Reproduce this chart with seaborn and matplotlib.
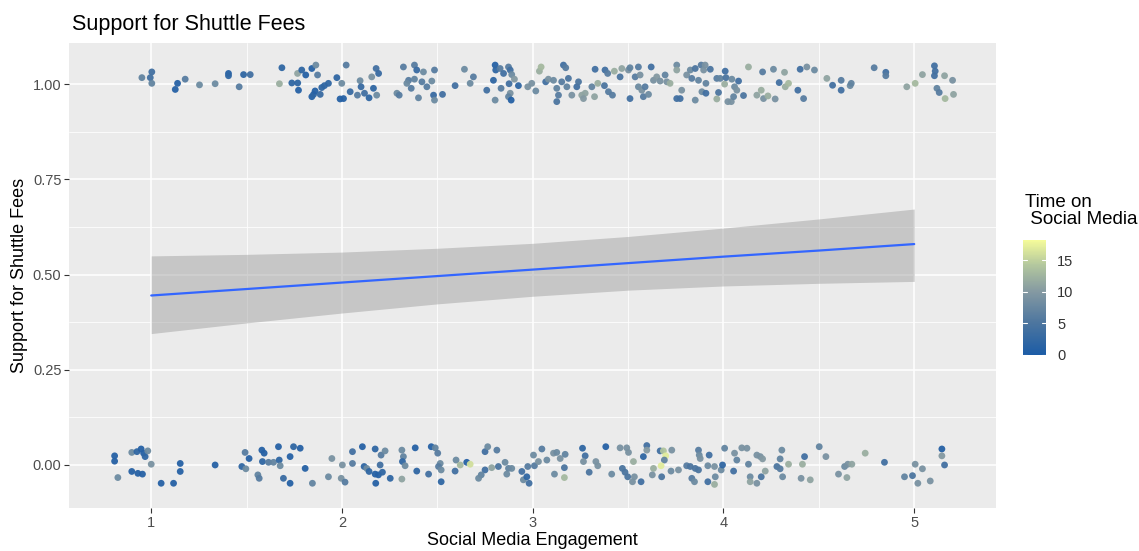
import numpy as np
import pandas as pd
import matplotlib
matplotlib.use("Agg")
import matplotlib.pyplot as plt
from matplotlib.colors import LinearSegmentedColormap, Normalize
import matplotlib.cm as cm
import seaborn as sns

# Respondents who support the fee (outcome = 1), jittered positions
support_x = [0.951, 0.995, 1.003, 1.003, 1.126, 1.138, 1.178, 1.253, 1.335, 1.405, 1.405, 1.461, 1.484, 1.519,
             1.685, 1.672, 1.737, 1.768, 1.772, 1.767, 1.789, 1.810, 1.842, 1.863, 1.872, 1.842, 1.851, 1.859,
             1.886, 1.894, 1.908, 1.929, 1.973, 1.999, 1.990, 2.008, 2.022, 2.043, 2.081, 2.095, 2.100, 2.118,
             2.142, 2.156, 2.165, 2.179, 2.182,
             2.192, 2.322, 2.380, 2.392, 2.427, 2.485, 2.349, 2.380, 2.340, 2.419, 2.445, 2.471, 2.363, 2.288,
             2.300, 2.401, 2.480, 2.485, 2.527, 2.593, 2.642, 2.672, 2.689, 2.759, 2.803, 2.806, 2.794, 2.829,
             2.847, 2.873, 2.882, 2.890, 2.904, 2.834, 2.876, 2.882, 2.873, 2.887, 2.803, 2.925, 2.974, 2.995,
             3.016, 3.035, 3.044, 3.068, 3.082, 3.109, 3.126, 3.135, 3.126, 3.152, 3.161, 3.173, 3.179, 3.187,
             3.205, 3.231, 3.240, 3.257, 3.275, 3.266, 3.310, 3.327, 3.324, 3.341, 3.379, 3.393, 3.376, 3.397,
             3.418, 3.428, 3.458, 3.467, 3.502, 3.510, 3.537, 3.510, 3.554, 3.563, 3.554, 3.572, 3.589, 3.580,
             3.607, 3.621, 3.633, 3.650, 3.668, 3.694, 3.703, 3.720, 3.755, 3.755, 3.781, 3.755, 3.773, 3.807,
             3.826, 3.834, 3.852, 3.883, 3.896, 3.904, 3.931, 3.869, 3.908, 3.887, 3.908, 3.852, 3.965, 3.983,
             3.974, 3.965, 4.006, 4.009, 4.013, 4.023, 4.041, 4.044, 4.058, 4.070, 4.053, 4.079, 4.105, 4.131,
             4.175, 4.198, 4.210, 4.205, 4.233, 4.262, 4.271, 4.292, 4.320, 4.324, 4.341, 4.390, 4.402, 4.420,
             4.437, 4.477, 4.542, 4.572, 4.617, 4.617, 4.664, 4.670, 4.790, 4.851, 4.851, 4.961, 5.005, 5.043,
             5.106, 5.110, 5.106, 5.159, 5.201, 5.119, 5.131, 5.206, 5.162]
support_y = [1.017, 1.017, 1.032, 1.002, 0.986, 1.002, 1.013, 0.998, 1.001, 1.028, 1.022, 0.993, 1.025, 1.025,
             1.043, 1.001, 1.003, 1.003, 0.984, 1.028, 1.037, 1.024, 1.041, 1.050, 1.024, 0.967, 0.973, 0.982,
             0.973, 0.991, 0.996, 1.002, 1.017, 1.002, 0.961, 0.962, 1.050, 0.980, 0.971, 1.009, 0.993, 0.976,
             0.964, 1.019, 0.989, 1.041, 0.971,
             1.028, 1.045, 1.050, 1.037, 1.032, 1.037, 1.010, 1.013, 1.002, 1.006, 0.993, 1.008, 0.989, 0.976,
             0.971, 0.964, 0.971, 0.958, 0.973, 0.996, 1.039, 1.002, 1.019, 0.984, 1.050, 1.037, 1.010, 1.041,
             1.028, 1.045, 1.037, 1.025, 1.013, 0.989, 1.001, 0.976, 0.967, 0.958, 0.958, 0.996, 0.993, 1.002,
             0.982, 1.034, 1.045, 1.006, 1.013, 1.010, 0.989, 0.971, 0.954, 1.006, 1.050, 1.043, 0.993, 1.015,
             0.971, 0.993, 1.006, 0.971, 0.976, 0.962, 0.993, 1.039, 0.967, 1.002, 1.037, 1.028, 0.996, 0.980,
             0.971, 1.034, 1.019, 1.041, 1.037, 1.043, 1.019, 0.962, 1.045, 1.024, 0.993, 0.984, 0.993, 0.967,
             0.973, 1.045, 1.010, 1.019, 1.008, 1.024, 1.006, 1.002, 1.050, 1.037, 0.984, 0.962, 0.962, 1.024,
             1.037, 1.015, 1.041, 1.050, 1.037, 1.050, 1.039, 1.010, 1.002, 0.980, 0.976, 0.958, 1.015, 1.015,
             0.978, 0.961, 1.000, 1.034, 1.017, 0.954, 0.954, 1.013, 0.993, 0.984, 0.967, 1.008, 0.970, 1.045,
             0.971, 0.984, 0.962, 1.032, 0.969, 1.039, 0.961, 1.004, 1.031, 0.993, 1.002, 0.984, 1.039, 0.962,
             1.045, 1.037, 1.015, 0.997, 1.010, 0.984, 0.996, 1.002, 1.043, 1.031, 1.022, 0.993, 1.002, 1.025,
             1.048, 1.034, 1.022, 1.022, 1.010, 0.989, 0.978, 0.973, 0.962]
support_time = [7, 4, 4, 7, 1, 1, 6, 8, 8, 1, 2, 6, 2, 4,
                2, 12, 2, 2, 1, 11, 2, 1, 1, 8, 6, 1, 2, 1,
                3, 2, 2, 2, 2, 8, 1, 1, 6, 3, 6, 8, 3, 4,
                2, 9, 2, 4, 8,
                3, 6, 6, 3, 8, 6, 6, 7, 8, 6, 6, 8, 6, 8,
                6, 7, 3, 8, 4, 4, 8, 8, 6, 4, 1, 2, 2, 6,
                4, 6, 4, 8, 10, 6, 4, 9, 7, 1, 8, 2, 9, 9,
                8, 12, 13, 4, 9, 8, 7, 6, 5, 6, 4, 6, 7, 5,
                9, 4, 5, 11, 11, 10, 7, 4, 11, 12, 4, 6, 5, 6,
                6, 12, 5, 11, 9, 7, 6, 4, 6, 9, 8, 9, 6, 6,
                8, 4, 9, 10, 9, 7, 9, 12, 8, 11, 9, 4, 4, 9,
                8, 6, 5, 6, 9, 9, 5, 7, 7, 8, 4, 8, 6, 7,
                5, 12, 12, 4, 5, 9, 9, 8, 8, 9, 7, 4, 5, 12,
                11, 12, 9, 6, 12, 8, 9, 4, 11, 12, 13, 4, 4, 6,
                9, 8, 11, 4, 6, 4, 8, 7, 6, 4, 6, 11, 13, 11,
                4, 4, 4, 11, 9, 7, 6, 11, 13]

# Respondents who oppose the fee (outcome = 0), jittered positions
oppose_x = [0.808, 0.808, 0.825, 0.898, 0.925, 0.947, 0.960, 0.968, 0.982, 1.000, 0.898, 0.930, 0.954, 1.052,
            1.117, 1.152, 1.152, 1.335, 1.475, 1.492, 1.513, 1.496, 1.559, 1.566, 1.580, 1.592, 1.583, 1.615,
            1.641, 1.671, 1.676, 1.667, 1.728, 1.746, 1.781, 1.807, 1.693, 1.728, 1.845, 1.947, 1.929, 1.996,
            2.016, 2.002, 2.055, 2.055, 2.107, 2.116, 2.130, 2.142, 2.174, 2.174, 2.177,
            2.205, 2.226, 2.200, 2.191, 2.212, 2.253, 2.314, 2.322, 2.317, 2.331, 2.314, 2.384, 2.392, 2.454,
            2.468, 2.489, 2.502, 2.515, 2.506, 2.520, 2.520, 2.598, 2.593, 2.620, 2.654, 2.672, 2.750, 2.764,
            2.812, 2.750, 2.730, 2.716, 2.785, 2.820, 2.855, 2.873, 2.890, 2.864, 2.943, 2.951, 2.969, 2.981,
            2.974, 3.004, 3.009, 3.030, 3.048, 3.074, 3.109, 3.126, 3.144, 3.170, 3.166, 3.114, 3.166, 3.261,
            3.275, 3.266, 3.296, 3.331, 3.341, 3.383, 3.414, 3.458, 3.493, 3.502, 3.528, 3.470, 3.484, 3.498,
            3.533, 3.523, 3.568, 3.580, 3.598, 3.598, 3.668, 3.685, 3.697, 3.690, 3.673, 3.633, 3.627, 3.676,
            3.729, 3.725, 3.764, 3.807,
            3.869, 3.873, 3.878, 3.925, 3.826, 3.852, 3.869, 3.834, 3.848, 3.918, 3.918, 3.953, 3.957, 3.953,
            3.988, 3.995, 4.006, 4.053, 4.058, 4.070, 4.096, 4.123, 4.131, 4.140, 4.140, 4.175, 4.193, 4.205,
            4.198, 4.175, 4.219, 4.280, 4.297, 4.297, 4.306, 4.310, 4.341, 4.407, 4.414, 4.425, 4.455, 4.502,
            4.537, 4.603, 4.635, 4.652, 4.673, 4.647, 4.743, 4.844, 4.949, 4.991, 5.005, 5.043, 5.019, 5.084,
            5.145, 5.145, 5.159]
oppose_y = [0.024, 0.010, -0.033, 0.033, 0.035, 0.042, 0.031, 0.022, 0.037, 0.002, -0.017, -0.022, -0.024, -0.048,
            -0.048, 0.004, -0.017, 0.000, -0.004, 0.033, 0.017, -0.010, -0.026, -0.035, 0.039, 0.031, 0.009, 0.007,
            0.007, 0.013, -0.002, 0.048, 0.022, 0.048, 0.044, -0.009, -0.035, -0.048, -0.048, 0.017, -0.031, -0.035,
            -0.045, 0.000, 0.035, 0.004, 0.048, -0.004, -0.009, -0.017, 0.042, -0.024, -0.048,
            0.026, 0.037, 0.000, -0.026, -0.019, -0.035, 0.039, 0.022, 0.009, -0.002, -0.037, 0.045, -0.016, -0.024,
            0.048, 0.045, 0.031, 0.004, -0.004, -0.013, -0.044, 0.013, -0.016, 0.000, 0.007, 0.002, 0.035, 0.048,
            0.039, -0.013, -0.026, -0.035, -0.007, -0.004, 0.007, -0.009, -0.009, -0.024, -0.017, -0.039, -0.031, -0.048,
            -0.004, 0.026, -0.002, 0.009, 0.042, 0.013, 0.031, 0.033, 0.017, 0.028, -0.007, -0.024, -0.033, 0.044,
            0.024, 0.009, -0.019, 0.009, -0.002, 0.048, -0.024, 0.045, 0.045, 0.033, 0.009, -0.009, -0.019, -0.031,
            -0.031, -0.044, -0.044, 0.022, 0.051, 0.039, 0.037, 0.037, 0.024, 0.013, -0.002, -0.009, -0.026, -0.031,
            0.039, -0.016, -0.013, -0.002,
            0.039, 0.026, 0.017, 0.026, -0.004, -0.009, -0.013, -0.035, -0.044, -0.002, -0.044, -0.004, -0.031, -0.051,
            -0.013, 0.000, 0.044, -0.016, 0.031, 0.013, 0.045, 0.044, 0.002, -0.031, -0.044, 0.026, 0.022, 0.016,
            -0.031, -0.048, -0.016, -0.004, -0.010, 0.016, 0.039, -0.031, 0.002, -0.035, 0.002, 0.022, -0.039, 0.048,
            0.022, -0.024, -0.004, 0.002, 0.002, -0.033, 0.031, 0.007, -0.031, -0.028, 0.002, -0.010, -0.048, -0.042,
            0.042, 0.024, 0.000]
oppose_time = [1, 1, 8, 8, 2, 1, 1, 2, 8, 9, 1, 1, 1, 1,
               1, 1, 1, 1, 2, 6, 1, 8, 7, 6, 1, 1, 2, 6,
               7, 2, 8, 1, 1, 2, 1, 1, 3, 1, 7, 9, 8, 9,
               6, 9, 4, 6, 1, 2, 8, 2, 2, 1, 1,
               6, 8, 4, 1, 2, 2, 8, 7, 2, 8, 11, 1, 2, 4,
               1, 7, 6, 8, 6, 8, 2, 8, 4, 13, 1, 16, 4, 8,
               6, 4, 7, 8, 11, 5, 8, 7, 8, 8, 4, 8, 2, 4,
               6, 8, 6, 9, 6, 8, 9, 8, 9, 7, 5, 8, 13, 2,
               4, 9, 5, 9, 9, 1, 8, 9, 9, 9, 12, 5, 5, 5,
               9, 9, 4, 2, 4, 10, 4, 14, 17, 7, 17, 12, 9, 5,
               9, 8, 9, 6,
               6, 8, 9, 4, 5, 5, 5, 6, 8, 8, 4, 9, 8, 12,
               8, 2, 7, 4, 9, 7, 9, 9, 7, 8, 11, 9, 9, 10,
               5, 9, 11, 5, 6, 7, 8, 8, 12, 9, 12, 4, 11, 7,
               9, 9, 8, 9, 11, 11, 12, 4, 7, 5, 9, 9, 9, 9,
               1, 10, 4]

# Fitted logistic curve with its 95% confidence band
fit_x = [1.0, 1.5, 2.0, 2.5, 3.0, 3.5, 4.0, 4.5, 5.0]
fit_p = [0.445, 0.462, 0.479, 0.496, 0.513, 0.530, 0.547, 0.563, 0.580]
fit_lo = [0.345, 0.373, 0.399, 0.423, 0.443, 0.459, 0.470, 0.477, 0.482]
fit_hi = [0.549, 0.553, 0.559, 0.569, 0.582, 0.600, 0.622, 0.646, 0.672]

x_ticks = [1, 2, 3, 4, 5]
y_ticks = [0.0, 0.25, 0.5, 0.75, 1.0]
y_tick_labels = ["0.00", "0.25", "0.50", "0.75", "1.00"]
cbar_ticks = [0, 5, 10, 15]

points = pd.DataFrame({
    "engagement": support_x + oppose_x,
    "support": support_y + oppose_y,
    "time": support_time + oppose_time,
})
curve = pd.DataFrame({"engagement": fit_x, "p": fit_p, "lo": fit_lo, "hi": fit_hi})

sns.set_theme(style="darkgrid")
plt.rcParams["font.family"] = ["Liberation Sans", "DejaVu Sans"]

cmap = LinearSegmentedColormap.from_list(
    "time_cmap",
    [(0.0, "#1c5ca6"), (0.28, "#4d769f"), (0.55, "#8499a2"), (0.78, "#b2c69e"), (1.0, "#f4fb9a")],
)
norm = Normalize(vmin=0, vmax=18.2)

fig = plt.figure(figsize=(11.39, 5.51), dpi=100)
ax = fig.add_axes([0.0606, 0.078, 0.8139, 0.844])
ax.set_facecolor("#ebebeb")

# grid: major and minor white lines, ggplot style
for v in [1.5, 2.5, 3.5, 4.5]:
    ax.axvline(v, color="white", lw=0.55, zorder=0)
for v in [0.125, 0.375, 0.625, 0.875]:
    ax.axhline(v, color="white", lw=0.55, zorder=0)
ax.grid(True, color="white", lw=1.1, zorder=0)
ax.set_axisbelow(True)

sns.scatterplot(data=points, x="engagement", y="support", hue="time", palette=cmap,
                hue_norm=norm, s=24, linewidth=0, alpha=0.95, legend=False, ax=ax, zorder=3)

ax.fill_between(curve["engagement"], curve["lo"], curve["hi"], color="#999999", alpha=0.45,
                linewidth=0, zorder=2)
sns.lineplot(data=curve, x="engagement", y="p", color="#3366ff", lw=1.6, ax=ax, zorder=4)

ax.set_xlim(0.569, 5.429)
ax.set_ylim(-0.113, 1.108)
ax.set_xticks(x_ticks)
ax.set_xticklabels([str(t) for t in x_ticks])
ax.set_yticks(y_ticks)
ax.set_yticklabels(y_tick_labels)
ax.tick_params(axis="both", which="major", length=3.5, width=0.8, color="#333333",
               labelsize=10.5, labelcolor="#4d4d4d", pad=2, bottom=True, left=True)
for s in ax.spines.values():
    s.set_visible(False)

ax.set_xlabel("Social Media Engagement", fontsize=13, color="black", labelpad=2)
ax.set_ylabel("Support for Shuttle Fees", fontsize=13, color="black", labelpad=3)
ax.set_title("Support for Shuttle Fees", fontsize=15.5, loc="left", color="black", pad=9, x=0.003)

# colour bar for time on social media
cax = fig.add_axes([0.898, 0.356, 0.0205, 0.208])
sm = cm.ScalarMappable(norm=norm, cmap=cmap)
cb = fig.colorbar(sm, cax=cax, ticks=cbar_ticks)
cb.outline.set_visible(False)
cb.ax.tick_params(length=0, labelsize=10.5, labelcolor="#333333", pad=8)
for t in cbar_ticks:
    cb.ax.axhline(t, xmin=0, xmax=0.2, color="white", lw=0.8)
    cb.ax.axhline(t, xmin=0.8, xmax=1.0, color="white", lw=0.8)
fig.text(0.8995, 0.617, "Time on\n Social Media", fontsize=13.5, ha="left", va="center",
         color="black", linespacing=1.0)

fig.patch.set_facecolor("white")
fig.savefig("out.png", dpi=100, facecolor="white")
